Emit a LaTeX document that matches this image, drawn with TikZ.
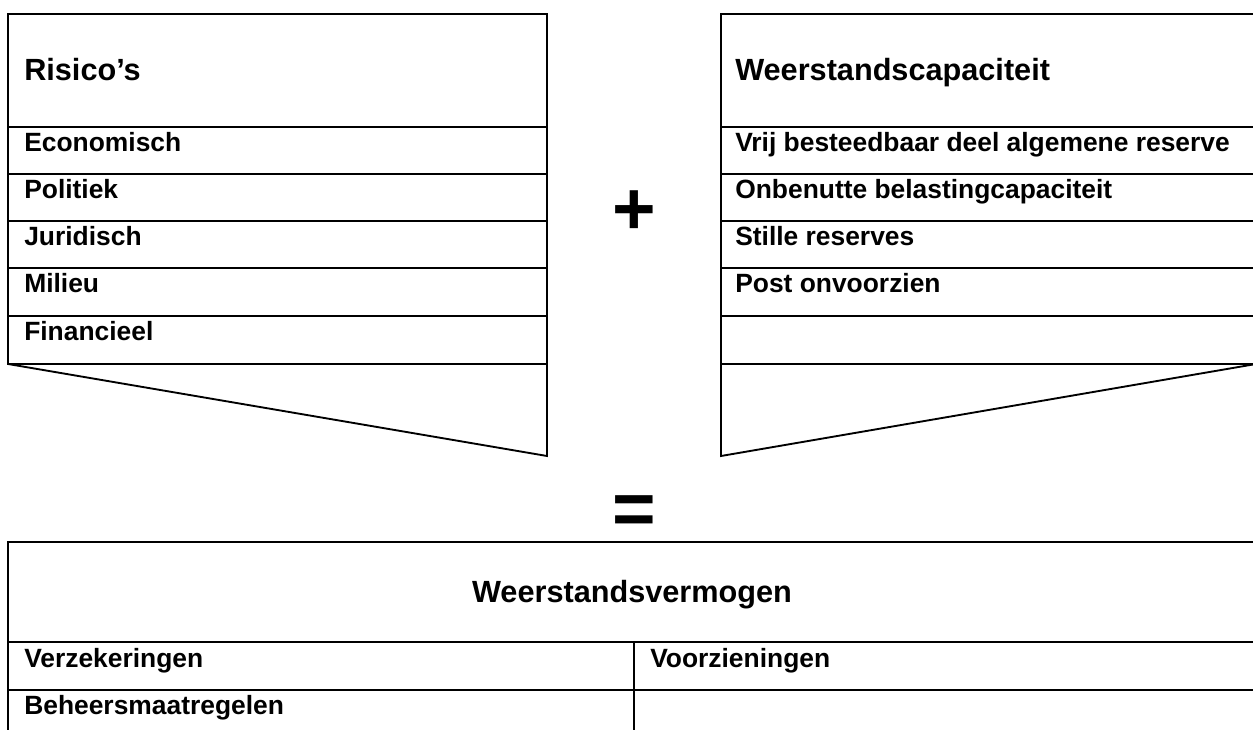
\documentclass[tikz,border=0pt]{standalone}
\usepackage{fontspec}
\setmainfont{Liberation Sans}
\begin{document}
\begin{tikzpicture}[x=0.75pt,y=-0.75pt,
  frame/.style={line width=2.1pt},
  slope/.style={line width=1.4pt},
  head/.style={font=\bfseries\fontsize{23}{27}\selectfont, anchor=base west, inner sep=0pt},
  bighead/.style={font=\bfseries\fontsize{23}{27}\selectfont, anchor=base, inner sep=0pt},
  item/.style={font=\bfseries\fontsize{19.8}{24}\selectfont, anchor=base west, inner sep=0pt},
  op/.style={font=\bfseries\fontsize{56}{60}\selectfont, inner sep=0pt}]
\useasboundingbox (0,0) rectangle (1253,730);
\begin{scope}
\clip (0,0) rectangle (1253,730);
% left box
\draw[frame] (547,364) -- (547,14) -- (8,14) -- (8,364) -- cycle;
\foreach \yy in {127,174,221,268,316} \draw[frame] (8,\yy) -- (547,\yy);
\draw[slope] (8,364) -- (547,456) -- (547,364);
% right box
\draw[frame] (1256,364) -- (1256,14) -- (721,14) -- (721,364) -- cycle;
\foreach \yy in {127,174,221,268,316} \draw[frame] (721,\yy) -- (1256,\yy);
\draw[slope] (721,364) -- (721,456) -- (1256,364);
% bottom box
\draw[frame] (8,740) -- (8,542) -- (1256,542) -- (1256,740);
\draw[frame] (8,642) -- (1256,642);
\draw[frame] (8,690) -- (1256,690);
\draw[frame] (634,642) -- (634,740);
\end{scope}
% texts
\node[head] (risico) at (24,81) {Risico’s};
\node[item] (eco) at (24,152) {Economisch};
\node[item] (pol) at (24,199) {Politiek};
\node[item] (jur) at (24,246) {Juridisch};
\node[item] (mil) at (24,293) {Milieu};
\node[item] (fin) at (24,341) {Financieel};
\node[head] (wc) at (735,81) {Weerstandscapaciteit};
\node[item] (vrij) at (735,152) {Vrij besteedbaar deel algemene reserve};
\node[item] (onb) at (735,199) {Onbenutte belastingcapaciteit};
\node[item] (stil) at (735,246) {Stille reserves};
\node[item] (post) at (735,293) {Post onvoorzien};
\node[bighead] (wv) at (632,602) {Weerstandsvermogen};
\node[item] (verz) at (24,667) {Verzekeringen};
\node[item] (voor) at (650,667) {Voorzieningen};
\node[item] (beh) at (24,714) {Beheersmaatregelen};
\node[op] (plus) at (634,213) {+};
\node[op] (eq) at (634,515) {=};
\end{tikzpicture}
\end{document}
